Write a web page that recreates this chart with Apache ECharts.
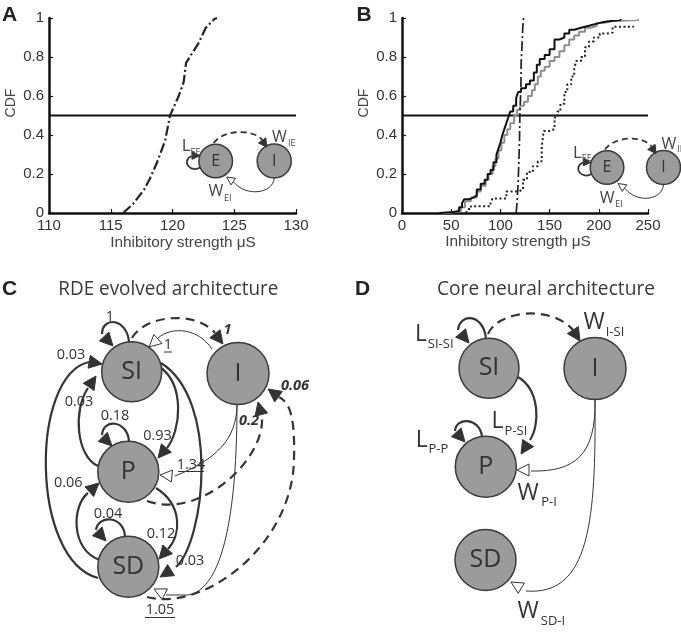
<!DOCTYPE html>
<html><head><meta charset="utf-8">
<script src="https://cdn.jsdelivr.net/npm/echarts@6/dist/echarts.min.js"></script>
<style>html,body{margin:0;padding:0;background:#fff}#c{width:681px;height:634px}</style>
</head><body><div id="c"></div>
<script>
// ---------------- data ----------------
const xTicksA = [110, 115, 120, 125, 130];
const xTicksB = [0, 50, 100, 150, 200, 250];
const yTicks = [0, 0.2, 0.4, 0.6, 0.8, 1];
const threshold = 0.5;
const xLabel = 'Inhibitory strength \u03bcS';
const yLabel = 'CDF';
const panelLetters = ['A', 'B', 'C', 'D'];
const panelTitles = ['RDE evolved architecture', 'Core neural architecture'];

// dash-dot CDF (panel A, also shown in panel B)
const dashDotCDF = [[116,0],[116.8,0.046],[117.7,0.12],[118.2,0.18],[118.75,0.26],[119.4,0.37],[119.8,0.5],[120.5,0.6],[120.9,0.67],[121.1,0.77],[122.1,0.87],[122.7,0.95],[123.4,0.995],[123.6,1]];
// panel B step CDFs
const blackCDF = [[38,0],[40,0.005],[52,0.01],[58,0.03],[61,0.05],[63,0.07],[68,0.08],[73,0.09],[76,0.12],[80,0.15],[84,0.17],[87,0.2],[90,0.22],[93,0.26],[96,0.3],[98,0.33],[100,0.36],[102,0.4],[104,0.43],[106,0.46],[108,0.49],[110,0.52],[113,0.55],[116,0.59],[118,0.62],[121,0.64],[126,0.66],[130,0.68],[134,0.72],[137,0.76],[140,0.79],[145,0.81],[150,0.84],[155,0.89],[160,0.9],[165,0.92],[170,0.94],[175,0.95],[182,0.96],[190,0.97],[197,0.98],[205,0.985],[212,0.99],[222,0.995]];
const grayCDF = [[40,0],[45,0.005],[55,0.01],[60,0.03],[64,0.06],[70,0.08],[76,0.11],[80,0.14],[85,0.17],[88,0.2],[92,0.24],[95,0.28],[98,0.32],[101,0.36],[104,0.4],[107,0.43],[110,0.46],[114,0.5],[117,0.53],[120,0.55],[124,0.57],[128,0.6],[132,0.63],[135,0.66],[138,0.7],[141,0.73],[145,0.75],[150,0.78],[155,0.8],[160,0.83],[165,0.86],[170,0.89],[175,0.91],[180,0.93],[186,0.95],[192,0.96],[198,0.975],[205,0.985],[215,0.99],[240,0.995]];
const dottedCDF = [[65,0],[67,0.02],[70,0.035],[90,0.05],[92,0.075],[106,0.11],[118,0.12],[123,0.17],[127,0.21],[133,0.24],[138,0.265],[142,0.34],[144,0.42],[150,0.43],[155,0.49],[158,0.52],[161,0.56],[165,0.62],[168,0.66],[172,0.7],[175,0.74],[177,0.78],[182,0.8],[186,0.85],[190,0.88],[195,0.9],[201,0.92],[208,0.925],[214,0.955],[235,0.96]];

// ---------------- helpers ----------------
const mctx = document.createElement('canvas').getContext('2d');
function fit(s, size, family, w) { mctx.font = size + 'px ' + family; return w / mctx.measureText(s).width; }
const G = [];
const LC = '#353535';
// path string "M x y C ... L x y" -> bezierCurve / line graphic elements
function P(d, w, dash, color) {
  const tk = d.match(/[MCL]|-?\d*\.?\d+/g);
  let i = 0, cx = 0, cy = 0, cmd = null;
  const style = {fill:'none', stroke:color||LC, lineWidth:w, lineDash:dash||null};
  while (i < tk.length) {
    if (/[MCL]/.test(tk[i])) { cmd = tk[i]; i++; }
    const n = () => parseFloat(tk[i++]);
    if (cmd === 'M') { cx = n(); cy = n(); }
    else if (cmd === 'L') { const x = n(), y = n();
      G.push({type:'line', silent:true, z:1, shape:{x1:cx,y1:cy,x2:x,y2:y}, style:Object.assign({}, style)}); cx = x; cy = y; }
    else if (cmd === 'C') { const a=n(), b=n(), c=n(), e=n(), x=n(), y=n();
      G.push({type:'bezierCurve', silent:true, z:1, shape:{x1:cx,y1:cy,cpx1:a,cpy1:b,cpx2:c,cpy2:e,x2:x,y2:y}, style:Object.assign({}, style)}); cx = x; cy = y; }
    else i++;
  }
}
function AR(x, y, deg, filled, len, hw) {
  len = len || 13; hw = hw || 6.5;
  const a = deg*Math.PI/180, dx = Math.cos(a), dy = Math.sin(a);
  const bx = x - len*dx, by = y - len*dy;
  G.push({type:'polygon', silent:true, z:4, shape:{points:[[x,y],[bx-hw*dy,by+hw*dx],[bx+hw*dy,by-hw*dx]]},
    style: filled ? {fill:'#333', stroke:'#333', lineWidth:1} : {fill:'#fff', stroke:'#333', lineWidth:1}});
}
function T(x, y, s, o) {
  o = o || {};
  G.push({type:'text', silent:true, x:x, y:y, z:o.z||6, scaleX:o.sx||1,
    style:{text:s, x:0, y:0, fill:o.color||'#333', fontSize:o.size||14.5, fontFamily:o.family||'"Open Sans"',
      fontWeight:o.bold?'bold':'normal', fontStyle:o.italic?'italic':'normal', align:o.align||'center', verticalAlign:'middle'}});
}
function U(x1, x2, y) { G.push({type:'line', silent:true, z:6, shape:{x1:x1,y1:y,x2:x2,y2:y}, style:{stroke:'#333', lineWidth:1}}); }
function N(cx, cy, r, label, fs) {
  G.push({type:'circle', silent:true, z:3, shape:{cx:cx,cy:cy,r:r}, style:{fill:'#9b9b9b', stroke:'#3a3a3a', lineWidth:1.5}});
  T(cx, cy, label, {size:fs, z:5, color:'#333'});
}
function SUBLBL(x, y, main, sx, sy, sub, ms, ss, color) {
  T(x, y, main, {size:ms, color:color});
  T(sx, sy, sub, {size:ss, color:color});
}

// inset E-I diagram (panels A & B)
function inset(ox, oy, dI) {
  const c = '#444';
  P(`M ${ox-15} ${oy+6} C ${ox-25} ${oy+13}, ${ox-35} ${oy}, ${ox-24} ${oy-5}`, 1.8);
  AR(ox-16.5, oy-5, 5, true, 7, 4);
  P(`M ${ox-2} ${oy-18} C ${ox+8} ${oy-32}, ${ox+dI-20} ${oy-32}, ${ox+dI-12} ${oy-21}`, 1.8, [6,4]);
  AR(ox+dI-7.5, oy-14, 55, true, 8, 4.5);
  P(`M ${ox+dI} ${oy+17} C ${ox+dI-1} ${oy+33}, ${ox+30} ${oy+36}, ${ox+18} ${oy+21}`, 1);
  AR(ox+11, oy+16, 215, false, 8, 4);
  N(ox, oy, 16.8, 'E', 16);
  N(ox+dI, oy, 17, 'I', 16);
  SUBLBL(ox-29.5, oy-14.5, 'L', ox-20.2, oy-9, 'EE', 17, 9, c);
  SUBLBL(ox+dI+5.3, oy-23.5, 'W', ox+dI+17.5, oy-17.7, 'IE', 16, 9, c);
  SUBLBL(ox+0.1, oy+30.7, 'W', ox+12.1, oy+37.3, 'EI', 16, 9, c);
}
inset(215.7, 161, 58.5);
inset(607, 167.5, 56.5);

// panel letters and titles
const LP = [[9.5,15],[364,15.5],[9.5,289],[362.5,289]];
panelLetters.forEach((l,i)=>T(LP[i][0], LP[i][1], l, {size:21, bold:true, family:'"Liberation Sans"', color:'#222'}));
T(168.3, 289.5, panelTitles[0], {size:20, color:'#3a3a3a', sx:fit(panelTitles[0], 20, '"Open Sans"', 220)});
T(546, 289.5, panelTitles[1], {size:20, color:'#3a3a3a', sx:fit(panelTitles[1], 20, '"Open Sans"', 218)});

// ---------- panel C ----------
const DASH = [9,6];
P('M 129 342 C 127 318, 102 316, 102 334', 2.2); AR(113,346,47,true);
P('M 132 338 C 145 315, 195 310, 215 333', 2.2, DASH); AR(223,344,52,true);
P('M 212 349 C 198 328, 172 326, 158 338', 1); AR(149,347,138,false,12,6);
P('M 98 578 C 30 560, 30 375, 89 362', 2.2); AR(102,364,10,true);
P('M 98 466 C 76 456, 73 410, 88 388', 2.2); AR(96,376,-56,true);
P('M 129 441 C 127 420, 103 418, 102 435', 2.2); AR(112,446,45,true);
P('M 160 367 C 185 385, 181 430, 167 448', 2.2); AR(158,458,130,true);
P('M 161 363 C 220 400, 205 540, 176 567', 2.2); AR(160,577,148,true);
P('M 237 404 C 237 440, 215 460, 175 476', 1); AR(160,475,185,false,12,6);
P('M 147 501 C 200 520, 265 460, 262 417', 2.2, DASH); AR(258,402,255,true);
P('M 156 488 C 183 505, 181 535, 168 549', 2.2); AR(159,559,132,true);
P('M 100 560 C 70 550, 72 505, 88 493', 2.2); AR(99,483,-42,true);
P('M 125 536 C 123 515, 98 515, 96 530', 2.2); AR(106,541,48,true);
P('M 237 404 C 237 470, 232 588, 188 595 L 166 595', 1); AR(154,589,206,false,12,6);
P('M 147 597 C 205 612, 292 545, 294 460 C 295 420, 291 403, 279 397', 2.2, DASH); AR(268,389,216,true);
N(131.7, 371.7, 30, 'SI', 25);
N(238, 373.5, 31, 'I', 25);
N(128.3, 471.7, 30.5, 'P', 25);
N(128.3, 566.7, 30.5, 'SD', 25);
T(110, 317, '1');
T(227.5, 330, '1', {bold:true, italic:true});
T(168, 345, '1'); U(164, 172, 352);
T(71, 355, '0.03');
T(79, 402, '0.03');
T(115, 416, '0.18');
T(157.5, 436, '0.93');
T(191, 465, '1.34'); U(178, 204, 471.5);
T(249, 421, '0.2', {bold:true, italic:true});
T(295, 386, '0.06', {bold:true, italic:true});
T(68.3, 482.5, '0.06');
T(108, 514, '0.04');
T(161, 534, '0.12');
T(190, 561, '0.03');
T(160, 610, '1.05'); U(145, 175, 617.5);

// ---------- panel D ----------
P('M 486 339 C 484 314, 460 312, 458 330', 2.2); AR(469,343,50,true);
P('M 488 334 C 498 310, 552 305, 573 330', 2.2, DASH); AR(580,341,57,true);
P('M 518 377 C 540 390, 540 425, 530 440', 2.2); AR(521,454,123,true);
P('M 482 436 C 479 417, 456 417, 455 431', 2.2); AR(465,442,48,true);
P('M 595 400 C 596 455, 575 472, 531 471', 1); AR(517,470,180,false,12,6);
P('M 595 400 C 596 520, 590 596, 526 591', 1); AR(511,582,211,false,12,6);
N(489, 368.3, 30, 'SI', 25);
N(595, 368.5, 31, 'I', 25);
N(485.8, 466.7, 30.5, 'P', 25);
N(485.5, 560, 30.5, 'SD', 25);
SUBLBL(421, 334, 'L', 440.7, 344, 'SI-SI', 23, 13);
SUBLBL(594, 322.5, 'W', 615, 332.5, 'I-SI', 23, 13);
SUBLBL(497.5, 421.7, 'L', 516, 431, 'P-SI', 23, 13);
SUBLBL(421.7, 440, 'L', 438.3, 449, 'P-P', 23, 13);
SUBLBL(528, 493, 'W', 549, 502.5, 'P-I', 23, 13);
SUBLBL(528, 611, 'W', 553, 621, 'SD-I', 23, 13);

// ---------------- chart ----------------
function xAx(gi, ticks, gap, pad) {
  return {type:'value', gridIndex:gi, min:ticks[0], max:ticks[ticks.length-1], interval:ticks[1]-ticks[0],
    axisLine:{onZero:false, lineStyle:{color:'#111', width:2.5}},
    axisTick:{inside:true, length:4, lineStyle:{color:'#111', width:1.2}},
    axisLabel:{color:'#333', fontSize:15, fontFamily:'"Liberation Sans"', margin:5},
    splitLine:{show:false},
    name:xLabel, nameLocation:'middle', nameGap:gap,
    nameTextStyle:{color:'#444', fontSize:15.4, fontFamily:'"Liberation Sans"', padding:pad}};
}
function yAx(gi) {
  return {type:'value', gridIndex:gi, min:yTicks[0], max:yTicks[yTicks.length-1], interval:yTicks[1]-yTicks[0],
    axisLine:{onZero:false, lineStyle:{color:'#111', width:2.5}},
    axisTick:{inside:true, length:4, lineStyle:{color:'#111', width:1.2}},
    axisLabel:{color:'#333', fontSize:15, fontFamily:'"Liberation Sans"', margin:5},
    splitLine:{show:false},
    name:yLabel, nameLocation:'middle', nameGap:31,
    nameTextStyle:{color:'#444', fontSize:14, fontFamily:'"Liberation Sans"', padding:[0,0,0,25]}};
}
function ln(gi, data, color, width, type, step) {
  return {type:'line', xAxisIndex:gi, yAxisIndex:gi, data:data, showSymbol:false, symbol:'none', step:step||false,
    lineStyle:{color:color, width:width, type:type||'solid'}, silent:true, animation:false};
}
const option = {
  backgroundColor:'#fff',
  animation:false,
  grid:[{left:49, top:18, width:247, height:195, outerBoundsMode:'none'}, {left:402, top:18, width:246, height:195, outerBoundsMode:'none'}],
  xAxis:[xAx(0, xTicksA, 22, [0,0,0,21]), xAx(1, xTicksB, 15, [0,14,0,0])],
  yAxis:[yAx(0), yAx(1)],
  series:[
    ln(0, [[xTicksA[0],threshold],[xTicksA[xTicksA.length-1],threshold]], '#111', 2),
    ln(0, dashDotCDF, '#222', 2.2, [10,3,2,3]),
    ln(1, [[xTicksB[0],threshold],[xTicksB[xTicksB.length-1],threshold]], '#111', 2),
    ln(1, dottedCDF, '#222', 2, [2,2.5], 'end'),
    ln(1, grayCDF, '#8e8e8e', 2, 'solid', 'end'),
    ln(1, blackCDF, '#111', 2, 'solid', 'end'),
    ln(1, dashDotCDF, '#222', 1.7, [10,3,2,3])
  ],
  graphic:{elements:G}
};
const chart = echarts.init(document.getElementById('c'), null, {renderer:'canvas', width:681, height:634});
chart.setOption(option);
</script></body></html>
